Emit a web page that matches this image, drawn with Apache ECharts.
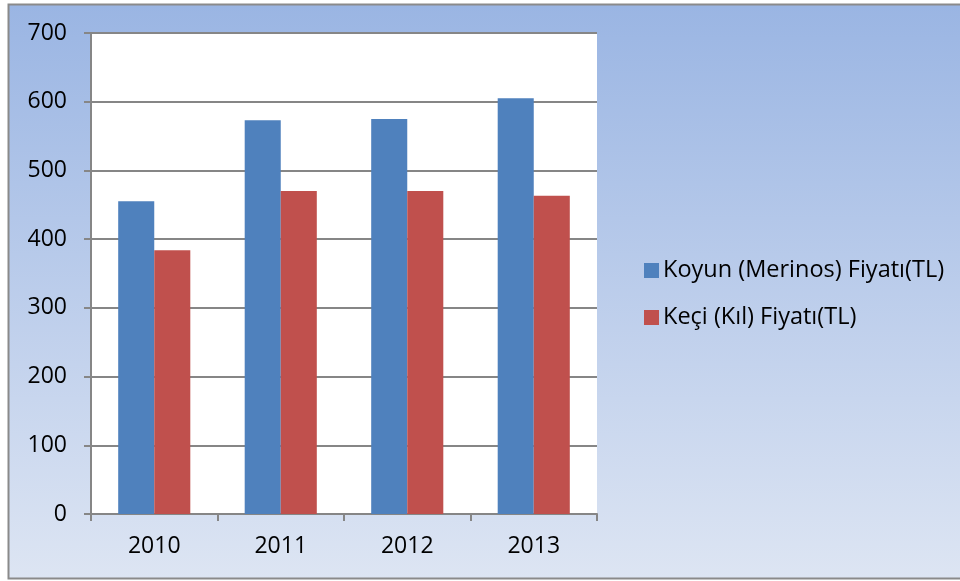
<!DOCTYPE html>
<html><head><meta charset="utf-8">
<script src="https://cdn.jsdelivr.net/npm/echarts@6/dist/echarts.min.js"></script>
<style>html,body{margin:0;padding:0;background:#fff}#c{width:960px;height:581px}</style>
</head><body><div id="c"></div>
<script>
const categories = ['2010', '2011', '2012', '2013'];
const koyun = [455, 573, 575, 605];
const keci = [384, 470, 470, 463];
const seriesNames = ['Koyun (Merinos) Fiyatı(TL)', 'Keçi (Kıl) Fiyatı(TL)'];

const chart = echarts.init(document.getElementById('c'), null, {renderer: 'canvas'});
const font = '"Open Sans", "Noto Sans", sans-serif';
chart.setOption({
  animation: false,
  graphic: [{
    type: 'rect', z: -10, silent: true,
    shape: {x: 8.5, y: 4.5, width: 960, height: 574},
    style: {
      fill: new echarts.graphic.LinearGradient(0, 0, 0, 1, [
        {offset: 0, color: '#9ab5e3'}, {offset: 1, color: '#dde5f3'}
      ]),
      stroke: '#8a8a8a', lineWidth: 2
    }
  }],
  grid: {left: 91, top: 33, right: 960 - 597, bottom: 581 - 514, containLabel: false,
         show: true, backgroundColor: '#ffffff', borderWidth: 0},
  legend: {
    orient: 'vertical', left: 639, top: 253, itemGap: 22,
    itemWidth: 15, itemHeight: 15, icon: 'rect',
    textStyle: {fontFamily: font, fontSize: 23.5, lineHeight: 25, color: '#000', padding: [0, 0, 0, -1]},
    data: seriesNames
  },
  xAxis: {
    type: 'category', data: categories,
    axisLine: {lineStyle: {color: '#868686', width: 2}},
    axisTick: {show: true, length: 7, lineStyle: {color: '#868686', width: 2}},
    axisLabel: {fontFamily: font, fontSize: 23, color: '#000', margin: 21}
  },
  yAxis: {
    type: 'value', min: 0, max: 700, interval: 100,
    axisLine: {show: true, lineStyle: {color: '#868686', width: 2}},
    axisTick: {show: true, length: 7, lineStyle: {color: '#868686', width: 2}},
    splitLine: {lineStyle: {color: '#868686', width: 2}},
    axisLabel: {fontFamily: font, fontSize: 23, color: '#000', margin: 24}
  },
  series: [
    {name: seriesNames[0], type: 'bar', data: koyun, barGap: '0%', barCategoryGap: '43%',
     itemStyle: {color: '#4f81bd'}},
    {name: seriesNames[1], type: 'bar', data: keci, barGap: '0%', barCategoryGap: '43%',
     itemStyle: {color: '#c0504d'}}
  ]
});
</script></body></html>
